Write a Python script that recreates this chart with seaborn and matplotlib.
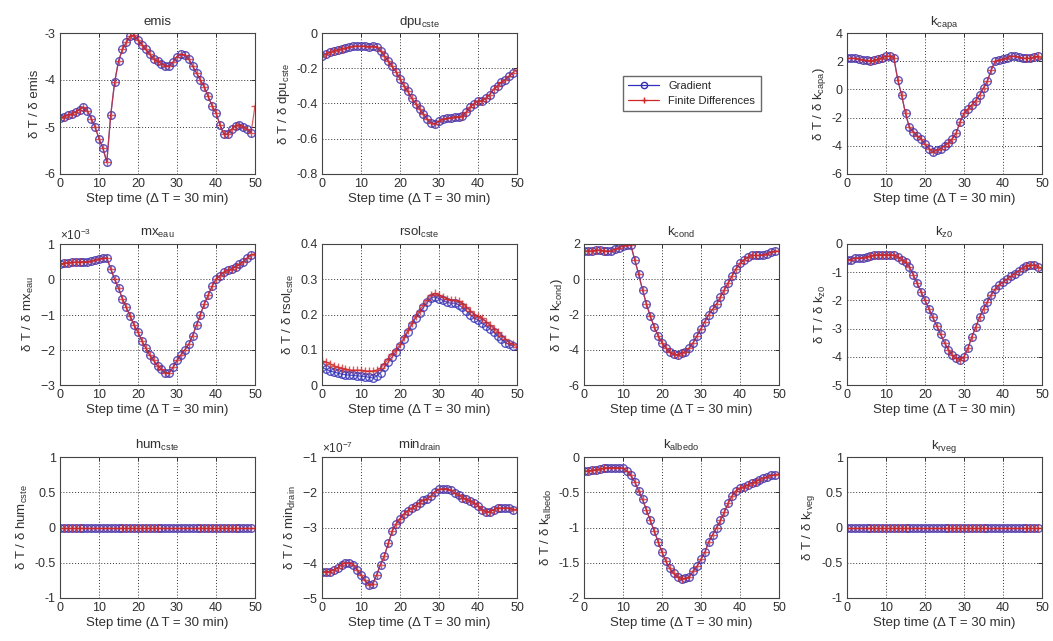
import matplotlib
matplotlib.use("Agg")
import matplotlib.pyplot as plt
import seaborn as sns
import pandas as pd
from matplotlib.ticker import ScalarFormatter, MultipleLocator, FuncFormatter
from matplotlib.lines import Line2D

# ---------------- data ----------------
steps_grad = list(range(0, 50))
steps_fd = list(range(0, 51))

emis_grad = [-4.8, -4.78, -4.75, -4.72, -4.68, -4.63, -4.58, -4.65, -4.82, -5.0,
             -5.25, -5.45, -5.75, -4.75, -4.05, -3.6, -3.35, -3.2, -3.07, -3.05,
             -3.15, -3.25, -3.35, -3.45, -3.55, -3.6, -3.65, -3.7, -3.7, -3.62,
             -3.5, -3.45, -3.47, -3.55, -3.7, -3.85, -4.0, -4.15, -4.35, -4.55,
             -4.7, -4.95, -5.15, -5.15, -5.05, -4.97, -4.95, -5.0, -5.05, -5.12]
emis_fd = [-4.8, -4.78, -4.75, -4.72, -4.68, -4.63, -4.58, -4.65, -4.82, -5.0,
           -5.25, -5.45, -5.75, -4.75, -4.05, -3.6, -3.35, -3.2, -3.07, -3.05,
           -3.15, -3.25, -3.35, -3.45, -3.55, -3.6, -3.65, -3.7, -3.7, -3.62,
           -3.5, -3.45, -3.47, -3.55, -3.7, -3.85, -4.0, -4.15, -4.35, -4.55,
           -4.7, -4.95, -5.15, -5.15, -5.05, -4.97, -4.95, -5.0, -5.05, -5.12, -4.55]

dpu_grad = [-0.13, -0.12, -0.11, -0.10, -0.095, -0.09, -0.085, -0.08, -0.075, -0.075,
            -0.075, -0.075, -0.077, -0.075, -0.08, -0.1, -0.13, -0.16, -0.19, -0.22,
            -0.26, -0.3, -0.33, -0.37, -0.4, -0.43, -0.46, -0.49, -0.51, -0.515,
            -0.5, -0.49, -0.485, -0.48, -0.475, -0.475, -0.47, -0.45, -0.42, -0.4,
            -0.385, -0.385, -0.37, -0.35, -0.32, -0.3, -0.28, -0.265, -0.245, -0.225]
dpu_fd = [-0.13, -0.12, -0.11, -0.10, -0.095, -0.09, -0.085, -0.08, -0.075, -0.075,
          -0.075, -0.075, -0.077, -0.075, -0.08, -0.1, -0.13, -0.16, -0.19, -0.22,
          -0.26, -0.3, -0.33, -0.37, -0.4, -0.43, -0.46, -0.49, -0.51, -0.515,
          -0.5, -0.49, -0.485, -0.48, -0.475, -0.475, -0.47, -0.45, -0.42, -0.4,
          -0.385, -0.385, -0.37, -0.35, -0.32, -0.3, -0.28, -0.265, -0.245, -0.225, -0.21]

kcapa_grad = [2.2, 2.2, 2.2, 2.15, 2.1, 2.05, 2.0, 2.05, 2.15, 2.25,
              2.35, 2.35, 2.25, 0.7, -0.4, -1.7, -2.7, -3.0, -3.3, -3.5,
              -3.9, -4.2, -4.45, -4.3, -4.2, -4.0, -3.8, -3.5, -3.1, -2.3,
              -1.7, -1.4, -1.1, -0.8, -0.4, 0.1, 0.6, 1.4, 2.0, 2.1,
              2.15, 2.25, 2.35, 2.35, 2.3, 2.2, 2.2, 2.2, 2.3, 2.35]
kcapa_fd = [2.2, 2.2, 2.2, 2.15, 2.1, 2.05, 2.0, 2.05, 2.15, 2.25,
            2.35, 2.35, 2.25, 0.7, -0.4, -1.7, -2.7, -3.0, -3.3, -3.5,
            -3.9, -4.2, -4.45, -4.3, -4.2, -4.0, -3.8, -3.5, -3.1, -2.3,
            -1.7, -1.4, -1.1, -0.8, -0.4, 0.1, 0.6, 1.4, 2.0, 2.1,
            2.15, 2.25, 2.35, 2.35, 2.3, 2.2, 2.2, 2.2, 2.3, 2.35, 2.2]

# values in units of 1e-3
mx_grad = [0.42, 0.45, 0.47, 0.48, 0.48, 0.49, 0.5, 0.5, 0.52, 0.55,
           0.58, 0.6, 0.6, 0.3, 0.0, -0.25, -0.55, -0.8, -1.05, -1.3,
           -1.5, -1.75, -1.95, -2.15, -2.3, -2.45, -2.55, -2.65, -2.65, -2.5,
           -2.3, -2.15, -2.0, -1.85, -1.6, -1.3, -1.0, -0.7, -0.45, -0.2,
           0.0, 0.1, 0.2, 0.25, 0.3, 0.35, 0.42, 0.5, 0.6, 0.7]
mx_fd = [0.42, 0.45, 0.47, 0.48, 0.48, 0.49, 0.5, 0.5, 0.52, 0.55,
         0.58, 0.6, 0.6, 0.3, 0.0, -0.25, -0.55, -0.8, -1.05, -1.3,
         -1.5, -1.75, -1.95, -2.15, -2.3, -2.45, -2.55, -2.65, -2.65, -2.5,
         -2.3, -2.15, -2.0, -1.85, -1.6, -1.3, -1.0, -0.7, -0.45, -0.2,
         0.0, 0.1, 0.2, 0.25, 0.3, 0.35, 0.42, 0.5, 0.6, 0.7, 0.72]

rsol_grad = [0.05, 0.045, 0.04, 0.037, 0.034, 0.031, 0.029, 0.028, 0.027, 0.026,
             0.025, 0.024, 0.022, 0.02, 0.025, 0.035, 0.05, 0.065, 0.08, 0.095,
             0.11, 0.13, 0.15, 0.17, 0.19, 0.205, 0.22, 0.235, 0.248, 0.25,
             0.245, 0.24, 0.235, 0.232, 0.232, 0.228, 0.22, 0.21, 0.2, 0.19,
             0.185, 0.175, 0.168, 0.16, 0.15, 0.14, 0.13, 0.12, 0.115, 0.11]
rsol_fd = [0.068, 0.065, 0.06, 0.055, 0.05, 0.047, 0.045, 0.043, 0.042, 0.042,
           0.042, 0.04, 0.04, 0.04, 0.042, 0.048, 0.06, 0.073, 0.088, 0.1,
           0.115, 0.135, 0.155, 0.175, 0.195, 0.21, 0.228, 0.242, 0.255, 0.26,
           0.255, 0.25, 0.245, 0.242, 0.24, 0.238, 0.23, 0.22, 0.21, 0.2,
           0.195, 0.19, 0.18, 0.17, 0.16, 0.15, 0.14, 0.13, 0.12, 0.115, 0.108]

kcond_grad = [1.6, 1.6, 1.6, 1.65, 1.65, 1.6, 1.6, 1.6, 1.7, 1.8,
              1.9, 1.95, 1.95, 1.1, 0.3, -0.6, -1.4, -2.1, -2.7, -3.2,
              -3.6, -3.9, -4.15, -4.25, -4.3, -4.2, -4.1, -3.9, -3.6, -3.2,
              -2.8, -2.4, -2.0, -1.7, -1.4, -1.0, -0.6, -0.2, 0.2, 0.6,
              0.9, 1.1, 1.25, 1.35, 1.35, 1.35, 1.4, 1.45, 1.55, 1.6]
kcond_fd = [1.6, 1.6, 1.6, 1.65, 1.65, 1.6, 1.6, 1.6, 1.7, 1.8,
            1.9, 1.95, 1.95, 1.1, 0.3, -0.6, -1.4, -2.1, -2.7, -3.2,
            -3.6, -3.9, -4.15, -4.25, -4.3, -4.2, -4.1, -3.9, -3.6, -3.2,
            -2.8, -2.4, -2.0, -1.7, -1.4, -1.0, -0.6, -0.2, 0.2, 0.6,
            0.9, 1.1, 1.25, 1.35, 1.35, 1.35, 1.4, 1.45, 1.55, 1.6, 1.6]

kz0_grad = [-0.55, -0.55, -0.5, -0.5, -0.48, -0.45, -0.42, -0.4, -0.38, -0.38,
            -0.38, -0.38, -0.4, -0.45, -0.55, -0.65, -0.8, -1.1, -1.4, -1.7,
            -2.0, -2.3, -2.6, -2.9, -3.2, -3.5, -3.75, -3.95, -4.05, -4.1,
            -4.0, -3.7, -3.3, -2.95, -2.6, -2.3, -2.05, -1.8, -1.6, -1.45,
            -1.35, -1.25, -1.15, -1.05, -0.95, -0.85, -0.78, -0.75, -0.75, -0.8]
kz0_fd = [-0.55, -0.55, -0.5, -0.5, -0.48, -0.45, -0.42, -0.4, -0.38, -0.38,
          -0.38, -0.38, -0.4, -0.45, -0.55, -0.65, -0.8, -1.1, -1.4, -1.7,
          -2.0, -2.3, -2.6, -2.9, -3.2, -3.5, -3.75, -3.95, -4.05, -4.1,
          -4.0, -3.7, -3.3, -2.95, -2.6, -2.3, -2.05, -1.8, -1.6, -1.45,
          -1.35, -1.25, -1.15, -1.05, -0.95, -0.85, -0.78, -0.75, -0.75, -0.8, -0.85]

hum_grad = [0.0] * 50
hum_fd = [0.0] * 51

# values in units of 1e-7
min_grad = [-4.25, -4.25, -4.25, -4.2, -4.15, -4.05, -4.0, -4.0, -4.05, -4.2,
            -4.35, -4.5, -4.62, -4.6, -4.35, -4.05, -3.8, -3.45, -3.1, -2.9,
            -2.75, -2.62, -2.52, -2.45, -2.38, -2.3, -2.22, -2.18, -2.1, -1.98,
            -1.92, -1.9, -1.9, -1.95, -2.02, -2.08, -2.15, -2.2, -2.25, -2.3,
            -2.38, -2.5, -2.55, -2.55, -2.5, -2.45, -2.45, -2.45, -2.45, -2.5]
min_fd = [-4.25, -4.25, -4.25, -4.2, -4.15, -4.05, -4.0, -4.0, -4.05, -4.2,
          -4.35, -4.5, -4.62, -4.6, -4.35, -4.05, -3.8, -3.45, -3.1, -2.9,
          -2.75, -2.62, -2.52, -2.45, -2.38, -2.3, -2.22, -2.18, -2.1, -1.98,
          -1.92, -1.9, -1.9, -1.95, -2.02, -2.08, -2.15, -2.2, -2.25, -2.3,
          -2.38, -2.5, -2.55, -2.55, -2.5, -2.45, -2.45, -2.45, -2.45, -2.5, -2.48]

kalb_grad = [-0.2, -0.2, -0.19, -0.18, -0.17, -0.16, -0.15, -0.15, -0.15, -0.15,
             -0.16, -0.2, -0.26, -0.35, -0.48, -0.6, -0.75, -0.9, -1.05, -1.2,
             -1.35, -1.48, -1.58, -1.65, -1.7, -1.73, -1.72, -1.7, -1.62, -1.55,
             -1.45, -1.35, -1.2, -1.1, -1.0, -0.9, -0.78, -0.65, -0.55, -0.48,
             -0.44, -0.42, -0.4, -0.37, -0.35, -0.32, -0.3, -0.28, -0.26, -0.25]
kalb_fd = [-0.2, -0.2, -0.19, -0.18, -0.17, -0.16, -0.15, -0.15, -0.15, -0.15,
           -0.16, -0.2, -0.26, -0.35, -0.48, -0.6, -0.75, -0.9, -1.05, -1.2,
           -1.35, -1.48, -1.58, -1.65, -1.7, -1.73, -1.72, -1.7, -1.62, -1.55,
           -1.45, -1.35, -1.2, -1.1, -1.0, -0.9, -0.78, -0.65, -0.55, -0.48,
           -0.44, -0.42, -0.4, -0.37, -0.35, -0.32, -0.3, -0.28, -0.26, -0.25, -0.24]

krveg_grad = [0.0] * 50
krveg_fd = [0.0] * 51

# panel definitions: (row, col, title, ylabel, grad, fd, scale, ylim, ystep)
panels = [
    (0, 0, "emis", r"δ T / δ emis", emis_grad, emis_fd, 1, (-6, -3), 1),
    (0, 1, r"dpu$_{\mathrm{cste}}$", r"δ T / δ dpu$_{\mathrm{cste}}$", dpu_grad, dpu_fd, 1, (-0.8, 0), 0.2),
    (0, 3, r"k$_{\mathrm{capa}}$", r"δ T / δ k$_{\mathrm{capa}}$)", kcapa_grad, kcapa_fd, 1, (-6, 4), 2),
    (1, 0, r"mx$_{\mathrm{eau}}$", r"δ T / δ mx$_{\mathrm{eau}}$", mx_grad, mx_fd, 1e-3, (-3e-3, 1e-3), 1e-3),
    (1, 1, r"rsol$_{\mathrm{cste}}$", r"δ T / δ rsol$_{\mathrm{cste}}$", rsol_grad, rsol_fd, 1, (0, 0.4), 0.1),
    (1, 2, r"k$_{\mathrm{cond}}$", r"δ T / δ k$_{\mathrm{cond}}$)", kcond_grad, kcond_fd, 1, (-6, 2), 2),
    (1, 3, r"k$_{\mathrm{z0}}$", r"δ T / δ k$_{\mathrm{z0}}$", kz0_grad, kz0_fd, 1, (-5, 0), 1),
    (2, 0, r"hum$_{\mathrm{cste}}$", r"δ T / δ hum$_{\mathrm{cste}}$", hum_grad, hum_fd, 1, (-1, 1), 0.5),
    (2, 1, r"min$_{\mathrm{drain}}$", r"δ T / δ min$_{\mathrm{drain}}$", min_grad, min_fd, 1e-7, (-5e-7, -1e-7), 1e-7),
    (2, 2, r"k$_{\mathrm{albedo}}$", r"δ T / δ k$_{\mathrm{albedo}}$", kalb_grad, kalb_fd, 1, (-2, 0), 0.5),
    (2, 3, r"k$_{\mathrm{rveg}}$", r"δ T / δ k$_{\mathrm{rveg}}$", krveg_grad, krveg_fd, 1, (-1, 1), 0.5),
]

xlabel = "Step time (Δ T = 30 min)"
legend_labels = ["Gradient", "Finite Differences"]

# ---------------- style ----------------
sns.set_style("white")
plt.rcParams["font.family"] = ["Liberation Sans", "DejaVu Sans"]
plt.rcParams["mathtext.fontset"] = "custom"
plt.rcParams["mathtext.rm"] = "Liberation Sans"
plt.rcParams["mathtext.it"] = "Liberation Sans"
plt.rcParams["axes.unicode_minus"] = False

W, H = 1053, 641
fig = plt.figure(figsize=(W / 100, H / 100), dpi=100)

col_left = [60, 322, 584, 847]
row_top = [33, 244, 457]
aw, ah = 195, 141

grad_color = "#3030b8"
fd_color = "#d02828"
txt_color = "#303030"

gfmt = FuncFormatter(lambda v, p: "%g" % round(v, 6))

for (r, c, title, ylab, g, f, scale, ylim, ystep) in panels:
    left = col_left[c] / W
    bottom = 1 - (row_top[r] + ah) / H
    ax = fig.add_axes([left, bottom, aw / W, ah / H])
    dg = pd.DataFrame({"x": steps_grad, "y": [v * scale for v in g]})
    dfd = pd.DataFrame({"x": steps_fd, "y": [v * scale for v in f]})
    sns.lineplot(data=dg, x="x", y="y", ax=ax, color=grad_color, lw=0.9,
                 marker="o", markersize=5.5, markerfacecolor="none",
                 markeredgecolor=grad_color, markeredgewidth=1.0, alpha=0.8)
    sns.lineplot(data=dfd, x="x", y="y", ax=ax, color=fd_color, lw=0.9,
                 marker="+", markersize=5.5, markeredgecolor=fd_color,
                 markeredgewidth=1.0, alpha=0.75)
    ax.set_xlim(0, 50)
    ax.set_ylim(*ylim)
    ax.xaxis.set_major_locator(MultipleLocator(10))
    ax.yaxis.set_major_locator(MultipleLocator(ystep))
    if scale != 1:
        fmt = ScalarFormatter(useMathText=True)
        fmt.set_powerlimits((0, 0))
        ax.yaxis.set_major_formatter(fmt)
        ax.yaxis.get_offset_text().set_fontsize(8.5)
        ax.yaxis.get_offset_text().set_color(txt_color)
    else:
        ax.yaxis.set_major_formatter(gfmt)
    ax.grid(True, linestyle=(0, (1, 2)), color="#333333", lw=0.7)
    ax.tick_params(direction="in", length=3, width=0.7, labelsize=9,
                   top=True, right=True, colors=txt_color, pad=3)
    for sp in ax.spines.values():
        sp.set_color("#444444")
        sp.set_linewidth(0.8)
    ax.set_title(title, fontsize=9.5, pad=6, color=txt_color)
    ax.set_xlabel(xlabel, fontsize=9.5, labelpad=2, color=txt_color)
    ax.set_ylabel(ylab, fontsize=9.5, labelpad=3, color=txt_color)

handles = [
    Line2D([], [], color=grad_color, lw=0.9, marker="o", markersize=4.5,
           markerfacecolor="none", markeredgecolor=grad_color),
    Line2D([], [], color=fd_color, lw=0.9, marker="+", markersize=5,
           markeredgecolor=fd_color),
]
fig.legend(handles, legend_labels, loc="upper left",
           bbox_to_anchor=(617 / W, 1 - 70 / H), fontsize=8,
           frameon=True, fancybox=False, edgecolor="#444444",
           handlelength=2.8, borderpad=0.5, labelspacing=0.4)

fig.savefig("out.png", dpi=100)
